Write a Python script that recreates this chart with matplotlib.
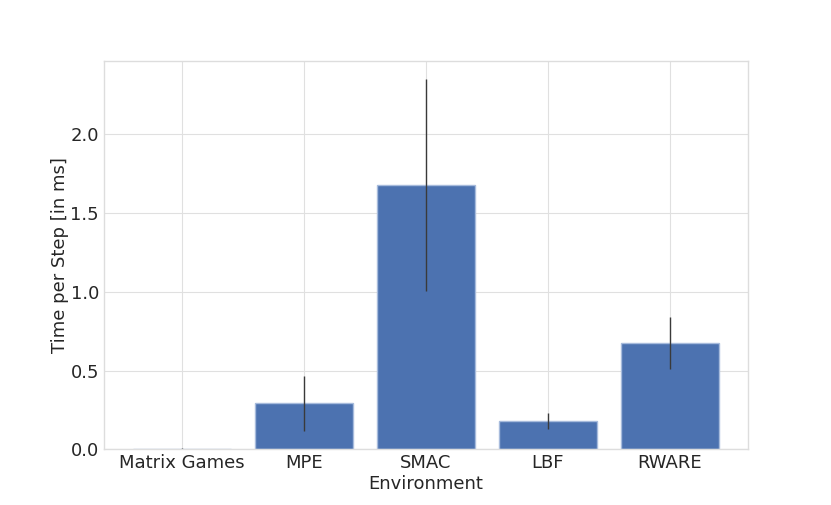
import matplotlib
matplotlib.use("Agg")
import matplotlib.pyplot as plt

plt.style.use("seaborn-v0_8-whitegrid")
plt.rcParams['font.family'] = ['DejaVu Sans']

environments = ["Matrix Games", "MPE", "SMAC", "LBF", "RWARE"]
time_ms = [0.005, 0.292, 1.676, 0.180, 0.676]
time_std = [0.002, 0.175, 0.672, 0.048, 0.165]

fig, ax = plt.subplots(figsize=(8.31, 5.05), dpi=100)
ax.bar(environments, time_ms, yerr=time_std, color="#4c72b0",
       edgecolor="#a7bbdc", linewidth=1.0, ecolor="#3a3a3a",
       error_kw=dict(elinewidth=1.0, capsize=0))
ax.set_xlabel("Environment", fontsize=13, color="#262626", labelpad=2)
ax.set_ylabel("Time per Step [in ms]", fontsize=13, color="#262626", labelpad=1)
ax.tick_params(axis="both", labelsize=13, colors="#262626")
for s in ax.spines.values():
    s.set_visible(True)
    s.set_color("#dddddd")
ax.grid(True, color="#e0e0e0")
ax.set_axisbelow(True)

fig.savefig("out.png", dpi=100)
